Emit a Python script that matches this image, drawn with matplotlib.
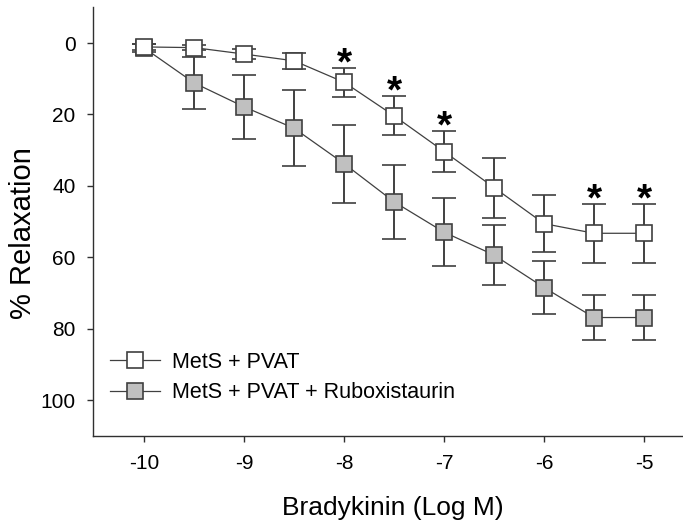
import numpy as np
import matplotlib
matplotlib.use("Agg")
import matplotlib.pyplot as plt
from matplotlib.lines import Line2D

plt.rcParams['font.family'] = ['Liberation Sans', 'DejaVu Sans']
plt.rcParams['axes.unicode_minus'] = False

# log concentration of bradykinin
dose = [-10, -9.5, -9, -8.5, -8, -7.5, -7, -6.5, -6, -5.5, -5]

# MetS + PVAT (open squares)
pvat_mean = [1.1, 1.3, 3.1, 5.0, 11.0, 20.4, 30.4, 40.5, 50.6, 53.3, 53.3]
pvat_err = [0.8, 0.7, 1.4, 2.2, 4.1, 5.5, 5.8, 8.4, 7.9, 8.2, 8.2]

# MetS + PVAT + Ruboxistaurin (grey squares)
rbx_mean = [1.4, 11.2, 17.9, 23.9, 33.8, 44.5, 53.0, 59.4, 68.5, 76.9, 76.9]
rbx_err = [1.0, 7.3, 9.0, 10.6, 10.9, 10.4, 9.5, 8.5, 7.5, 6.4, 6.4]

# doses marked significant
sig_dose = [-8, -7.5, -7, -5.5, -5]

labels = ['MetS + PVAT', 'MetS + PVAT + Ruboxistaurin']

fig = plt.figure(figsize=(6.83, 5.25), dpi=100)
ax = fig.add_axes([93.3 / 683, (525 - 435.7) / 525, (683 - 93.3) / 683, (435.7 - 7.3) / 525])

ecol = '#404040'
common = dict(fmt='s-', color=ecol, lw=0.9, ecolor=ecol, elinewidth=1.4,
              capsize=8.5, capthick=1.4, markersize=11, markeredgecolor=ecol,
              markeredgewidth=1.2)
ax.errorbar(dose, rbx_mean, yerr=rbx_err, markerfacecolor='#c0c0c0', zorder=2, **common)
ax.errorbar(dose, pvat_mean, yerr=pvat_err, markerfacecolor='white', zorder=3, **common)

for d in sig_dose:
    i = dose.index(d)
    top = pvat_mean[i] - pvat_err[i]
    ax.annotate('*', xy=(d, top), xytext=(0, -4.8), textcoords='offset points',
                ha='center', va='baseline', fontsize=28, fontweight='bold')

ax.set_xlim(-10.51, -4.61)
ax.set_ylim(110, -10)
ax.set_xticks([-10, -9, -8, -7, -6, -5])
ax.set_yticks([0, 20, 40, 60, 80, 100])
ax.tick_params(labelsize=15, length=4.3, width=1, color='#303030')
ax.tick_params(axis='x', pad=9)
ax.tick_params(axis='y', pad=8.5)

for s in ['top', 'right']:
    ax.spines[s].set_visible(False)
for s in ['left', 'bottom']:
    ax.spines[s].set_color('#303030')
    ax.spines[s].set_linewidth(1)

ax.set_xlabel('Bradykinin (Log M)', fontsize=19)
ax.set_ylabel('% Relaxation', fontsize=21)
ax.xaxis.set_label_coords(0.508, -0.141)
ax.yaxis.set_label_coords(-0.095, 0.473)

handles = [
    Line2D([], [], color=ecol, lw=0.9, marker='s', markersize=11,
           markerfacecolor='white', markeredgecolor=ecol, markeredgewidth=1.2),
    Line2D([], [], color=ecol, lw=0.9, marker='s', markersize=11,
           markerfacecolor='#c0c0c0', markeredgecolor=ecol, markeredgewidth=1.2),
]
ax.legend(handles, labels, loc='center left', bbox_to_anchor=(-0.004, 0.136),
          frameon=False, fontsize=15.5, handlelength=2.3, handletextpad=0.55,
          labelspacing=0.45, borderpad=0.4)

plt.savefig('out.png', dpi=100)
